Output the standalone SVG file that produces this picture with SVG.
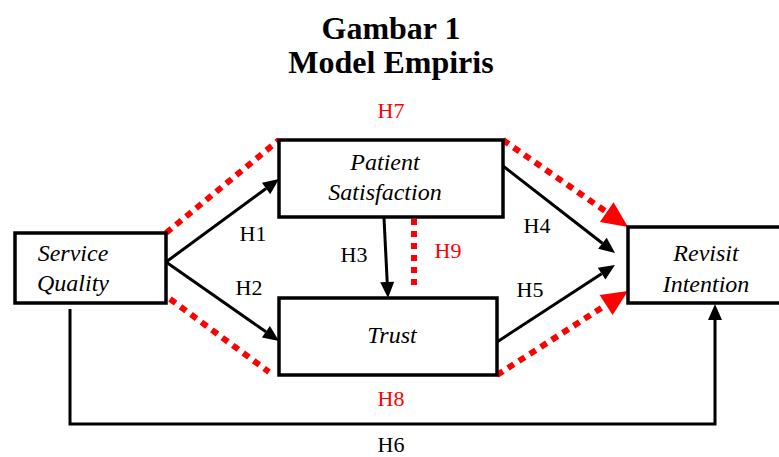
<svg xmlns="http://www.w3.org/2000/svg" width="779" height="457" viewBox="0 0 779 457">
<defs>
<style>
.box{fill:#fff;stroke:#000;stroke-width:3.5}
.lbl{font-family:"Liberation Serif","Times New Roman",serif;font-size:24px;font-style:italic;text-anchor:middle;fill:#000}
.h{font-family:"Liberation Serif","Times New Roman",serif;font-size:22px;text-anchor:middle;fill:#000}
.hr{fill:#ff0000}
.title{font-family:"Liberation Serif","Times New Roman",serif;font-size:32px;font-weight:bold;text-anchor:middle;fill:#000}
.arr{fill:none;stroke:#000;stroke-width:3;marker-end:url(#ab)}
.dot{fill:none;stroke:#ff0000;stroke-width:6;stroke-dasharray:7 6}
.dota{fill:none;stroke:#ff0000;stroke-width:6;stroke-dasharray:7 6;marker-end:url(#ar)}
</style>
<marker id="ab" markerUnits="userSpaceOnUse" markerWidth="17" markerHeight="14" refX="0" refY="7" orient="auto" overflow="visible">
<path d="M0,0 L16,7 L0,14 z" fill="#000"/>
</marker>
<marker id="ar" markerUnits="userSpaceOnUse" markerWidth="27" markerHeight="24" refX="0" refY="12" orient="auto" overflow="visible">
<path d="M0,0 L26,12 L0,24 z" fill="#ff0000"/>
</marker>
</defs>
<rect width="779" height="457" fill="#fff"/>
<text class="title" x="391" y="39">Gambar 1</text>
<text class="title" x="391" y="73">Model Empiris</text>

<g id="connectors">
<path class="arr" d="M166,262 L266.1,188.5"/>
<path class="arr" d="M166,262 L265.9,331.8"/>
<path class="arr" d="M384,218 L387.2,282"/>
<path class="arr" d="M503,166 L602.4,243.2"/>
<path class="arr" d="M497,342 L601.6,273.7"/>
<path class="arr" d="M70,309 L70,424 L715,424 L715,320"/>
<path class="dot" d="M166,233 L279,140"/>
<path class="dota" d="M503,140 L606.7,212.1"/>
<path class="dot" d="M170,299 L269,372"/>
<path class="dota" d="M497,375 L606.1,305"/>
<path class="dot" d="M414,219 L414,288" style="stroke-dasharray:6 6"/>
<text class="h" x="253" y="241">H1</text>
<text class="h" x="249" y="295">H2</text>
<text class="h" x="354" y="262">H3</text>
<text class="h" x="537" y="233">H4</text>
<text class="h" x="530" y="297">H5</text>
<text class="h" x="391" y="452">H6</text>
<text class="h hr" x="391" y="118">H7</text>
<text class="h hr" x="391" y="406">H8</text>
<text class="h hr" x="448" y="258">H9</text>
</g>

<g id="service-quality">
<rect class="box" x="15" y="233" width="151" height="70"/>
<text class="lbl" x="73" y="261">Service</text>
<text class="lbl" x="73" y="291">Quality</text>
</g>
<g id="patient-satisfaction">
<rect class="box" x="279" y="140" width="224" height="77"/>
<text class="lbl" x="385" y="170">Patient</text>
<text class="lbl" x="385" y="200">Satisfaction</text>
</g>
<g id="trust">
<rect class="box" x="279" y="298" width="218" height="77"/>
<text class="lbl" x="392" y="343">Trust</text>
</g>
<g id="revisit-intention">
<rect class="box" x="628" y="227" width="170" height="76"/>
<text class="lbl" x="706" y="261">Revisit</text>
<text class="lbl" x="706" y="292">Intention</text>
</g>
</svg>
